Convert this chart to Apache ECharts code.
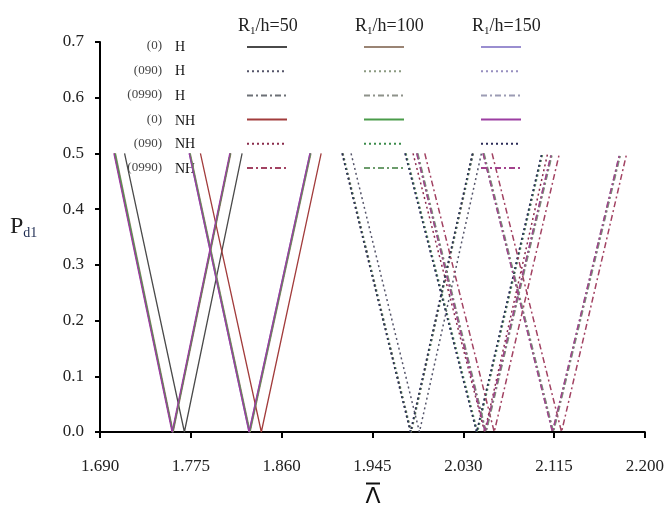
<!DOCTYPE html>
<html>
<head>
<meta charset="utf-8">
<script src="https://cdn.jsdelivr.net/npm/echarts@6/dist/echarts.min.js"></script>
<style>html,body{margin:0;padding:0;background:#fff;}#c{width:667px;height:509px;}</style>
</head>
<body>
<div id="c"></div>
<script>
// ---- data ----
const xTickLabels = ['1.690', '1.775', '1.860', '1.945', '2.030', '2.115', '2.200'];
const yTickLabels = ['0.0', '0.1', '0.2', '0.3', '0.4', '0.5', '0.6', '0.7'];
const ratioHeaders = ['50', '100', '150'];
const rowConfigs = ['(0)', '(090)', '(0990)', '(0)', '(090)', '(0990)'];
const rowTypes = ['H', 'H', 'H', 'NH', 'NH', 'NH'];
// one entry per curve; order: row (config/type) x ratio (50,100,150)
const curveNames = [
  '(0) H 50', '(0) H 100', '(0) H 150',
  '(090) H 50', '(090) H 100', '(090) H 150',
  '(0990) H 50', '(0990) H 100', '(0990) H 150',
  '(0) NH 50', '(0) NH 100', '(0) NH 150',
  '(090) NH 50', '(090) NH 100', '(090) NH 150',
  '(0990) NH 50', '(0990) NH 100', '(0990) NH 150'
];
const topValue = 0.5;
const bottomValue = 0.0;
// first dip: x at top (left), x at P=0, x at top (right)
const v1Left  = [1.713, 1.7045, 1.7035, 1.925, 1.9175, 1.917, 1.987, 1.9875, 1.9865, 1.7035, 1.704, 1.7030, 1.917, 1.9170, 1.9165, 1.994, 1.9870, 1.9865];
const v1Min   = [1.769, 1.7585, 1.7580, 1.989, 1.9815, 1.981, 2.051, 2.0515, 2.0505, 1.7580, 1.758, 1.7575, 1.981, 1.9810, 1.9805, 2.059, 2.0510, 2.0505];
const v1Right = [1.823, 1.8125, 1.8120, 2.047, 2.0395, 2.039, 2.113, 2.1135, 2.1125, 1.8120, 1.812, 1.8115, 2.039, 2.0390, 2.0385, 2.120, 2.1130, 2.1125];
// second dip
const v2Left  = [1.774, 1.7745, 1.7735, 1.976, 1.9765, 1.9755, 2.049, 2.0495, 2.0485, 1.784, 1.774, 1.7735, 1.983, 1.9760, 1.9755, 2.057, 2.0490, 2.0485];
const v2Min   = [1.830, 1.8305, 1.8295, 2.043, 2.0435, 2.0425, 2.114, 2.1145, 2.1135, 1.841, 1.830, 1.8295, 2.050, 2.0430, 2.0425, 2.122, 2.1140, 2.1135];
const v2Right = [1.887, 1.8875, 1.8865, 2.104, 2.1045, 2.1035, 2.177, 2.1775, 2.1765, 1.897, 1.887, 1.8865, 2.109, 2.1040, 2.1035, 2.183, 2.1770, 2.1765];

// ---- styles ----
const colors = [
  '#4a4a4a', '#9a8474', '#9a8ed0',
  '#55556a', '#8c9a82', '#978fc0',
  '#6c7076', '#8e928a', '#9c9cb4',
  '#a23c3c', '#4a9c4a', '#9c3ea2',
  '#8a2c4c', '#3c8c4c', '#2c2c58',
  '#a24262', '#6c9c6c', '#a2428c'
];
const dashFor = {'(0)': 'solid', '(090)': [2, 3], '(0990)': [6, 3, 2, 3]};
const X0 = 1.69;

const series = [];
curveNames.forEach(function (name, i) {
  const cfg = name.split(' ')[0];
  const dips = [[v1Left[i], v1Min[i], v1Right[i]], [v2Left[i], v2Min[i], v2Right[i]]];
  dips.forEach(function (d) {
    series.push({
      name: name,
      type: 'line',
      symbol: 'none',
      silent: true,
      animation: false,
      lineStyle: {color: colors[i], width: cfg === '(0)' ? 1.3 : 1.5, type: dashFor[cfg]},
      itemStyle: {color: colors[i]},
      data: [[d[0] - X0, topValue], [d[1] - X0, bottomValue], [d[2] - X0, topValue]]
    });
  });
});

// legends: one column per ratio, rows ordered like the picture
const legendOrder = [0, 3, 6, 9, 12, 15]; // base index per row
const legends = [0, 1, 2].map(function (col) {
  return {
    orient: 'vertical',
    left: [241, 358, 475][col],
    top: 35,
    itemWidth: 40,
    itemHeight: 14,
    itemGap: 11.6,
    selectedMode: false,
    itemStyle: {opacity: 0},
    formatter: function () { return ''; },
    textStyle: {fontSize: 8, padding: 0},
    data: legendOrder.map(function (b) { return curveNames[b + col]; })
  };
});

const serif = 'Liberation Serif';
const graphics = [];
ratioHeaders.forEach(function (r, k) {
  graphics.push({
    type: 'text', left: [238, 355, 472][k], top: 16,
    style: {
      text: '{a|R}{s|1}{a|/h=' + r + '}',
      rich: {
        a: {fontFamily: serif, fontSize: 18, fill: '#222', lineHeight: 22},
        s: {fontFamily: serif, fontSize: 11, fill: '#222', lineHeight: 22, padding: [10, 0, 0, 0]}
      }
    }
  });
});
const rowY = [46, 70.5, 95, 120, 143.5, 168];
rowConfigs.forEach(function (c, k) {
  graphics.push({type: 'text', x: 162, y: rowY[k], style: {text: c, fontFamily: serif, fontSize: 13, fill: '#444', align: 'right', verticalAlign: 'middle'}});
  graphics.push({type: 'text', x: 175, y: rowY[k] + 1, style: {text: rowTypes[k], fontFamily: serif, fontSize: 14, fill: '#111', align: 'left', verticalAlign: 'middle'}});
});
graphics.push({
  type: 'text', left: 10, top: 214,
  style: {
    text: '{a|P}{s|d1}',
    rich: {
      a: {fontFamily: serif, fontSize: 24, fill: '#222', lineHeight: 28},
      s: {fontFamily: serif, fontSize: 14, fill: '#1c2a50', lineHeight: 28, padding: [12, 0, 0, 0]}
    }
  }
});
graphics.push({type: 'text', x: 373, y: 497, style: {text: 'Λ', fontFamily: 'DejaVu Sans', fontSize: 22, fill: '#111', align: 'center', verticalAlign: 'middle'}});
graphics.push({type: 'line', shape: {x1: 366, y1: 483.5, x2: 380, y2: 483.5}, style: {stroke: '#111', lineWidth: 2}});

const chart = echarts.init(document.getElementById('c'), null, {renderer: 'canvas'});
chart.setOption({
  backgroundColor: '#fff',
  animation: false,
  grid: {left: 100, right: 22, top: 42, bottom: 77, containLabel: false},
  legend: legends,
  xAxis: {
    type: 'value', min: 0, max: 0.51, interval: 0.085,
    axisLine: {show: true, lineStyle: {color: '#000', width: 2}},
    axisTick: {show: true, length: 6, lineStyle: {color: '#000', width: 2}},
    splitLine: {show: false},
    axisLabel: {
      margin: 26, color: '#222', fontFamily: serif, fontSize: 17,
      formatter: function (v) { return xTickLabels[Math.round(v / 0.085)]; }
    }
  },
  yAxis: {
    type: 'value', min: 0, max: 0.7, interval: 0.1,
    axisLine: {show: true, lineStyle: {color: '#000', width: 2}},
    axisTick: {show: true, length: 5, lineStyle: {color: '#000', width: 2}},
    splitLine: {show: false},
    axisLabel: {
      margin: 16, color: '#222', fontFamily: serif, fontSize: 17,
      formatter: function (v) { return yTickLabels[Math.round(v * 10)]; }
    }
  },
  series: series,
  graphic: graphics
});
</script>
</body>
</html>
